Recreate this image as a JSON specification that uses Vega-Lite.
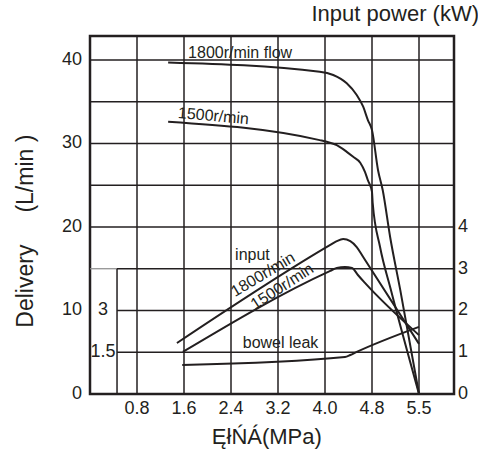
{
  "$schema": "https://vega.github.io/schema/vega-lite/v6.json",
  "width": 364,
  "height": 358,
  "autosize": {"type": "none"},
  "padding": {"left": 90, "top": 36, "right": 24, "bottom": 62},
  "background": "white",
  "title": {
    "text": "Input power (kW)",
    "anchor": "end",
    "fontSize": 22,
    "fontWeight": "normal",
    "font": "Liberation Sans",
    "color": "#231f20",
    "offset": 9,
    "dx": 11
  },
  "config": {
    "font": "Liberation Sans",
    "view": {"stroke": "#231f20", "strokeWidth": 2.5},
    "text": {"font": "Liberation Sans", "fontSize": 16, "color": "#231f20"},
    "line": {"stroke": "#231f20", "strokeWidth": 2, "interpolate": "monotone"},
    "rule": {"stroke": "#231f20", "strokeWidth": 1.5}
  },
  "datasets": {
    "flow": [
      {"series": "1800", "p": 1.33, "v": 39.7},
      {"series": "1800", "p": 3.91, "v": 38.6},
      {"series": "1800", "p": 4.14, "v": 38.2},
      {"series": "1800", "p": 4.37, "v": 37.2},
      {"series": "1800", "p": 4.54, "v": 35.8},
      {"series": "1800", "p": 4.65, "v": 34.4},
      {"series": "1800", "p": 4.73, "v": 32.8},
      {"series": "1800", "p": 4.8, "v": 31.6},
      {"series": "1800", "p": 4.89, "v": 26.8},
      {"series": "1800", "p": 4.96, "v": 24.4},
      {"series": "1800", "p": 5.07, "v": 18.8},
      {"series": "1800", "p": 5.22, "v": 12.5},
      {"series": "1800", "p": 5.5, "v": 0},
      {"series": "1500", "p": 1.33, "v": 32.6},
      {"series": "1500", "p": 3.91, "v": 30.4},
      {"series": "1500", "p": 4.03, "v": 30.2},
      {"series": "1500", "p": 4.2, "v": 29.8},
      {"series": "1500", "p": 4.37, "v": 29.0},
      {"series": "1500", "p": 4.48, "v": 28.4},
      {"series": "1500", "p": 4.6, "v": 27.7},
      {"series": "1500", "p": 4.68, "v": 26.6},
      {"series": "1500", "p": 4.73, "v": 25.6},
      {"series": "1500", "p": 4.8, "v": 24.2},
      {"series": "1500", "p": 4.81, "v": 22.9},
      {"series": "1500", "p": 4.92, "v": 17.6},
      {"series": "1500", "p": 5.08, "v": 12.5},
      {"series": "1500", "p": 5.5, "v": 0}
    ],
    "power": [
      {"series": "1800", "p": 1.48, "kw": 1.22},
      {"series": "1800", "p": 4.09, "kw": 3.57},
      {"series": "1800", "p": 4.2, "kw": 3.66},
      {"series": "1800", "p": 4.31, "kw": 3.71},
      {"series": "1800", "p": 4.43, "kw": 3.66},
      {"series": "1800", "p": 4.54, "kw": 3.52},
      {"series": "1800", "p": 4.65, "kw": 3.28},
      {"series": "1800", "p": 5.5, "kw": 1.2},
      {"series": "1500", "p": 1.58, "kw": 1.01},
      {"series": "1500", "p": 4.09, "kw": 2.95},
      {"series": "1500", "p": 4.2, "kw": 3.02},
      {"series": "1500", "p": 4.34, "kw": 3.04},
      {"series": "1500", "p": 4.46, "kw": 3.02},
      {"series": "1500", "p": 4.56, "kw": 2.85},
      {"series": "1500", "p": 4.68, "kw": 2.66},
      {"series": "1500", "p": 5.5, "kw": 1.41}
    ],
    "leak": [
      {"p": 1.57, "l": 1.04},
      {"p": 4.34, "l": 1.33},
      {"p": 4.43, "l": 1.4},
      {"p": 4.54, "l": 1.51},
      {"p": 5.5, "l": 2.41}
    ],
    "hgrid": [
      {"v": 40, "p0": 0, "p1": 6.02},
      {"v": 35, "p0": 0, "p1": 6.02},
      {"v": 30, "p0": 0, "p1": 6.02},
      {"v": 25, "p0": 0, "p1": 6.02},
      {"v": 20, "p0": 0, "p1": 6.02},
      {"v": 15, "p0": 0.46, "p1": 6.02},
      {"v": 10, "p0": 0.46, "p1": 6.02},
      {"v": 5, "p0": 0.46, "p1": 6.02}
    ],
    "pressureTicks": [
      {"p": 0.8}, {"p": 1.6}, {"p": 2.4}, {"p": 3.2}, {"p": 4.0}, {"p": 4.8}, {"p": 5.5}
    ],
    "deliveryTicks": [{"v": 0}, {"v": 10}, {"v": 20}, {"v": 30}, {"v": 40}],
    "powerTicks": [{"kw": 0}, {"kw": 1}, {"kw": 2}, {"kw": 3}, {"kw": 4}]
  },
  "layer": [
    {
      "layer": [
        {
          "data": {"name": "pressureTicks"},
          "transform": [{"calculate": "0", "as": "v0"}, {"calculate": "42.87", "as": "v1"}],
          "mark": {"type": "rule"},
          "encoding": {
            "x": {"field": "p", "type": "quantitative", "scale": {"domain": [0, 4.8, 5.5, 6.02], "range": [0, 282, 329, 364], "nice": false, "zero": false}, "axis": null},
            "y": {"field": "v0", "type": "quantitative", "scale": {"domain": [0, 42.87], "nice": false}, "axis": null},
            "y2": {"field": "v1"}
          }
        },
        {
          "data": {"name": "hgrid"},
          "mark": {"type": "rule"},
          "encoding": {
            "x": {"field": "p0", "type": "quantitative", "scale": {"domain": [0, 4.8, 5.5, 6.02], "range": [0, 282, 329, 364], "nice": false, "zero": false}, "axis": null},
            "x2": {"field": "p1"},
            "y": {"field": "v", "type": "quantitative", "scale": {"domain": [0, 42.87], "nice": false}, "axis": null}
          }
        },
        {
          "data": {"values": [{"v": 15, "p0": 0, "p1": 0.46}]},
          "mark": {"type": "rule", "stroke": "#8a8a8a", "strokeWidth": 1.2},
          "encoding": {
            "x": {"field": "p0", "type": "quantitative", "scale": {"domain": [0, 4.8, 5.5, 6.02], "range": [0, 282, 329, 364], "nice": false, "zero": false}, "axis": null},
            "x2": {"field": "p1"},
            "y": {"field": "v", "type": "quantitative", "scale": {"domain": [0, 42.87], "nice": false}, "axis": null}
          }
        },
        {
          "data": {"values": [{"p": 0.46, "v0": 0, "v1": 15}]},
          "mark": {"type": "rule"},
          "encoding": {
            "x": {"field": "p", "type": "quantitative", "scale": {"domain": [0, 4.8, 5.5, 6.02], "range": [0, 282, 329, 364], "nice": false, "zero": false}, "axis": null},
            "y": {"field": "v0", "type": "quantitative", "scale": {"domain": [0, 42.87], "nice": false}, "axis": null},
            "y2": {"field": "v1"}
          }
        },
        {
          "data": {"name": "flow"},
          "mark": {"type": "line"},
          "encoding": {
            "x": {"field": "p", "type": "quantitative", "scale": {"domain": [0, 4.8, 5.5, 6.02], "range": [0, 282, 329, 364], "nice": false, "zero": false}, "axis": null},
            "y": {"field": "v", "type": "quantitative", "scale": {"domain": [0, 42.87], "nice": false}, "axis": null},
            "detail": {"field": "series"}
          }
        },
        {
          "data": {"name": "pressureTicks"},
          "transform": [{"calculate": "0", "as": "v"}],
          "mark": {"type": "text", "align": "center", "baseline": "top", "dy": 6, "fontSize": 18},
          "encoding": {
            "x": {"field": "p", "type": "quantitative", "scale": {"domain": [0, 4.8, 5.5, 6.02], "range": [0, 282, 329, 364], "nice": false, "zero": false}, "axis": null},
            "y": {"field": "v", "type": "quantitative", "scale": {"domain": [0, 42.87], "nice": false}, "axis": null},
            "text": {"field": "p", "type": "quantitative", "format": ".1f"}
          }
        },
        {
          "data": {"name": "deliveryTicks"},
          "transform": [{"calculate": "0", "as": "p"}],
          "mark": {"type": "text", "align": "right", "baseline": "middle", "dx": -8, "fontSize": 18},
          "encoding": {
            "x": {"field": "p", "type": "quantitative", "scale": {"domain": [0, 4.8, 5.5, 6.02], "range": [0, 282, 329, 364], "nice": false, "zero": false}, "axis": null},
            "y": {"field": "v", "type": "quantitative", "scale": {"domain": [0, 42.87], "nice": false}, "axis": null},
            "text": {"field": "v", "type": "quantitative", "format": "d"}
          }
        },
        {
          "data": {"values": [{"p": 3.01, "v": -5.15, "label": "ĘłŃÁ(MPa)"}]},
          "mark": {"type": "text", "align": "center", "baseline": "middle", "fontSize": 22},
          "encoding": {
            "x": {"field": "p", "type": "quantitative", "scale": {"domain": [0, 4.8, 5.5, 6.02], "range": [0, 282, 329, 364], "nice": false, "zero": false}, "axis": null},
            "y": {"field": "v", "type": "quantitative", "scale": {"domain": [0, 42.87], "nice": false}, "axis": null},
            "text": {"field": "label"}
          }
        },
        {
          "data": {"values": [{"p": -1.09, "v": 19.5, "label": "Delivery\u00a0\u00a0\u00a0\u00a0\u00a0(L/min\u00a0)"}]},
          "mark": {"type": "text", "align": "center", "baseline": "middle", "angle": -90, "fontSize": 23},
          "encoding": {
            "x": {"field": "p", "type": "quantitative", "scale": {"domain": [0, 4.8, 5.5, 6.02], "range": [0, 282, 329, 364], "nice": false, "zero": false}, "axis": null},
            "y": {"field": "v", "type": "quantitative", "scale": {"domain": [0, 42.87], "nice": false}, "axis": null},
            "text": {"field": "label"}
          }
        },
        {
          "data": {"values": [{"p": 1.67, "v": 40.24, "label": "1800r/min flow"}]},
          "mark": {"type": "text", "align": "left", "baseline": "alphabetic"},
          "encoding": {
            "x": {"field": "p", "type": "quantitative", "scale": {"domain": [0, 4.8, 5.5, 6.02], "range": [0, 282, 329, 364], "nice": false, "zero": false}, "axis": null},
            "y": {"field": "v", "type": "quantitative", "scale": {"domain": [0, 42.87], "nice": false}, "axis": null},
            "text": {"field": "label"}
          }
        },
        {
          "data": {"values": [{"p": 1.49, "v": 33.05, "label": "1500r/min"}]},
          "mark": {"type": "text", "align": "left", "baseline": "alphabetic", "angle": 5},
          "encoding": {
            "x": {"field": "p", "type": "quantitative", "scale": {"domain": [0, 4.8, 5.5, 6.02], "range": [0, 282, 329, 364], "nice": false, "zero": false}, "axis": null},
            "y": {"field": "v", "type": "quantitative", "scale": {"domain": [0, 42.87], "nice": false}, "axis": null},
            "text": {"field": "label"}
          }
        }
      ]
    },
    {
      "layer": [
        {
          "data": {"name": "power"},
          "mark": {"type": "line"},
          "encoding": {
            "x": {"field": "p", "type": "quantitative", "scale": {"domain": [0, 4.8, 5.5, 6.02], "range": [0, 282, 329, 364], "nice": false, "zero": false}, "axis": null},
            "y": {"field": "kw", "type": "quantitative", "scale": {"domain": [0, 8.574], "nice": false}, "axis": null},
            "detail": {"field": "series"}
          }
        },
        {
          "data": {"name": "powerTicks"},
          "transform": [{"calculate": "6.02", "as": "p"}],
          "mark": {"type": "text", "align": "left", "baseline": "middle", "dx": 4, "fontSize": 18},
          "encoding": {
            "x": {"field": "p", "type": "quantitative", "scale": {"domain": [0, 4.8, 5.5, 6.02], "range": [0, 282, 329, 364], "nice": false, "zero": false}, "axis": null},
            "y": {"field": "kw", "type": "quantitative", "scale": {"domain": [0, 8.574], "nice": false}, "axis": null},
            "text": {"field": "kw", "type": "quantitative", "format": "d"}
          }
        },
        {
          "data": {"values": [{"p": 2.47, "kw": 3.21, "label": "input"}]},
          "mark": {"type": "text", "align": "left", "baseline": "alphabetic"},
          "encoding": {
            "x": {"field": "p", "type": "quantitative", "scale": {"domain": [0, 4.8, 5.5, 6.02], "range": [0, 282, 329, 364], "nice": false, "zero": false}, "axis": null},
            "y": {"field": "kw", "type": "quantitative", "scale": {"domain": [0, 8.574], "nice": false}, "axis": null},
            "text": {"field": "label"}
          }
        },
        {
          "data": {"values": [{"p": 2.47, "kw": 2.32, "label": "1800r/min"}]},
          "mark": {"type": "text", "align": "left", "baseline": "alphabetic", "angle": -31},
          "encoding": {
            "x": {"field": "p", "type": "quantitative", "scale": {"domain": [0, 4.8, 5.5, 6.02], "range": [0, 282, 329, 364], "nice": false, "zero": false}, "axis": null},
            "y": {"field": "kw", "type": "quantitative", "scale": {"domain": [0, 8.574], "nice": false}, "axis": null},
            "text": {"field": "label"}
          }
        },
        {
          "data": {"values": [{"p": 2.81, "kw": 2.01, "label": "1500r/min"}]},
          "mark": {"type": "text", "align": "left", "baseline": "alphabetic", "angle": -33},
          "encoding": {
            "x": {"field": "p", "type": "quantitative", "scale": {"domain": [0, 4.8, 5.5, 6.02], "range": [0, 282, 329, 364], "nice": false, "zero": false}, "axis": null},
            "y": {"field": "kw", "type": "quantitative", "scale": {"domain": [0, 8.574], "nice": false}, "axis": null},
            "text": {"field": "label"}
          }
        }
      ]
    },
    {
      "layer": [
        {
          "data": {"name": "leak"},
          "mark": {"type": "line"},
          "encoding": {
            "x": {"field": "p", "type": "quantitative", "scale": {"domain": [0, 4.8, 5.5, 6.02], "range": [0, 282, 329, 364], "nice": false, "zero": false}, "axis": null},
            "y": {"field": "l", "type": "quantitative", "scale": {"domain": [0, 12.86], "nice": false}, "axis": null}
          }
        },
        {
          "data": {"values": [{"p": 2.6, "l": 1.65, "label": "bowel leak"}]},
          "mark": {"type": "text", "align": "left", "baseline": "alphabetic"},
          "encoding": {
            "x": {"field": "p", "type": "quantitative", "scale": {"domain": [0, 4.8, 5.5, 6.02], "range": [0, 282, 329, 364], "nice": false, "zero": false}, "axis": null},
            "y": {"field": "l", "type": "quantitative", "scale": {"domain": [0, 12.86], "nice": false}, "axis": null},
            "text": {"field": "label"}
          }
        },
        {
          "data": {"values": [{"p": 0.22, "l": 1.5, "label": "1.5"}, {"p": 0.22, "l": 3, "label": "3"}]},
          "mark": {"type": "text", "align": "center", "baseline": "middle", "fontSize": 18},
          "encoding": {
            "x": {"field": "p", "type": "quantitative", "scale": {"domain": [0, 4.8, 5.5, 6.02], "range": [0, 282, 329, 364], "nice": false, "zero": false}, "axis": null},
            "y": {"field": "l", "type": "quantitative", "scale": {"domain": [0, 12.86], "nice": false}, "axis": null},
            "text": {"field": "label"}
          }
        }
      ]
    }
  ],
  "resolve": {"scale": {"y": "independent"}}
}
